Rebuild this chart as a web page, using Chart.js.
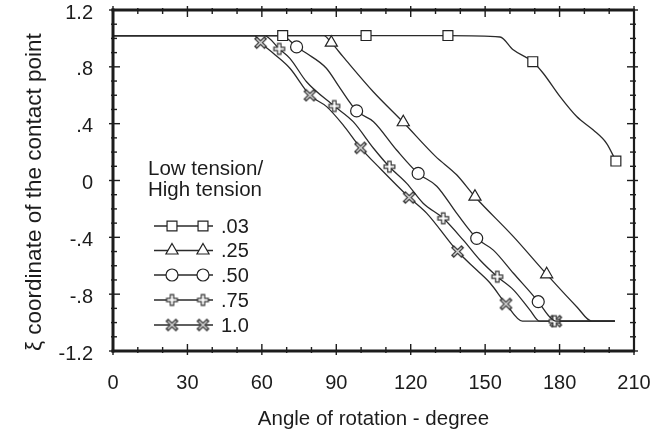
<!DOCTYPE html>
<html>
<head>
<meta charset="utf-8">
<script src="https://cdn.jsdelivr.net/npm/chart.js@4/dist/chart.umd.min.js"></script>
<style>
html,body{margin:0;padding:0;background:#fff;}
#wrap{width:669px;height:436px;position:relative;}
</style>
</head>
<body>
<div id="wrap"><canvas id="c" width="669" height="436"></canvas></div>
<script>
// ---------- data ----------
const seriesLabels = ['.03', '.25', '.50', '.75', '1.0'];
const legendTitle = ['Low tension/', 'High tension'];
const xTitle = 'Angle of rotation - degree';
const yTitle = 'ξ coordinate of the contact point';
const xTickValues = [0, 30, 60, 90, 120, 150, 180, 210];
const yTickValues = [-1.2, -0.8, -0.4, 0, 0.4, 0.8, 1.2];
const yTickLabels = ['-1.2', '-.8', '-.4', '0', '.4', '.8', '1.2'];

const s03X = [0, 68.4, 102, 135, 156, 161.3, 169.2, 173.4, 180.2, 186.9, 193.6, 199, 202.7];
const s03Y = [1.02, 1.02, 1.02, 1.02, 1.01, 0.92, 0.836, 0.755, 0.59, 0.45, 0.355, 0.26, 0.137];
const s03Mark = [0, 1, 1, 1, 0, 0, 1, 0, 0, 0, 0, 0, 1];

const s25X = [0, 85, 88, 92.8, 104.9, 117, 130, 138.5, 145.9, 161.4, 174.8, 186.9, 193, 202.3];
const s25Y = [1.02, 1.02, 0.97, 0.87, 0.625, 0.41, 0.17, 0.04, -0.114, -0.395, -0.66, -0.888, -0.99, -0.99];
const s25Mark = [0, 0, 1, 0, 0, 1, 0, 0, 1, 0, 1, 0, 0, 0];

const s50X = [0, 68, 74, 78, 86, 91.5, 98.2, 105, 114.3, 123, 130.5, 138.5, 146.6, 153.3, 161.4, 171.4, 176, 178.5, 202.3];
const s50Y = [1.02, 1.02, 0.94, 0.895, 0.79, 0.65, 0.49, 0.414, 0.215, 0.05, -0.04, -0.23, -0.407, -0.49, -0.653, -0.853, -0.96, -0.99, -0.99];
const s50Mark = [0, 0, 1, 0, 0, 0, 1, 0, 0, 1, 0, 0, 1, 0, 0, 1, 0, 0, 0];

const s75X = [0, 61, 67, 71.3, 78, 89.2, 96.8, 105, 111.4, 118.4, 125, 133.1, 141.2, 147.9, 154.9, 161.4, 168, 172, 178, 202.3];
const s75Y = [1.02, 1.02, 0.926, 0.86, 0.695, 0.524, 0.414, 0.227, 0.097, -0.02, -0.16, -0.266, -0.42, -0.56, -0.677, -0.77, -0.91, -0.99, -0.99, -0.99];
const s75Mark = [0, 0, 1, 0, 0, 1, 0, 0, 1, 0, 0, 1, 0, 0, 1, 0, 0, 0, 1, 0];

const s100X = [0, 57, 59.5, 64.6, 71.3, 79.4, 86.1, 92.8, 99.8, 107.6, 119.4, 126.4, 138.9, 146.6, 151.9, 158.4, 165, 178.5, 202.3];
const s100Y = [1.02, 1.02, 0.97, 0.895, 0.79, 0.60, 0.52, 0.39, 0.23, 0.086, -0.12, -0.23, -0.50, -0.63, -0.72, -0.869, -0.99, -0.99, -0.99];
const s100Mark = [0, 0, 1, 0, 0, 1, 0, 0, 1, 0, 1, 0, 1, 0, 0, 1, 0, 1, 0];

// ---------- styling ----------
const FONT = '"Liberation Sans", Arial, Helvetica, sans-serif';
const INK = '#1c1c1c';
const LINE = '#2a2a2a';

function makeHollowPlus() {
  const c = document.createElement('canvas');
  c.width = 15; c.height = 15;
  const g = c.getContext('2d');
  const m = 7.5, L = 6;
  g.lineCap = 'butt';
  g.strokeStyle = '#333'; g.lineWidth = 4.6;
  g.beginPath(); g.moveTo(m - L, m); g.lineTo(m + L, m); g.moveTo(m, m - L); g.lineTo(m, m + L); g.stroke();
  g.strokeStyle = '#fff'; g.lineWidth = 2.2;
  g.beginPath(); g.moveTo(m - L + 1.2, m); g.lineTo(m + L - 1.2, m); g.moveTo(m, m - L + 1.2); g.lineTo(m, m + L - 1.2); g.stroke();
  return c;
}
function makeHollowX() {
  const c = document.createElement('canvas');
  c.width = 15; c.height = 15;
  const g = c.getContext('2d');
  const m = 7.5, L = 5.2;
  g.lineCap = 'butt';
  g.strokeStyle = '#333'; g.lineWidth = 3.8;
  g.beginPath(); g.moveTo(m - L, m - L); g.lineTo(m + L, m + L); g.moveTo(m + L, m - L); g.lineTo(m - L, m + L); g.stroke();
  g.strokeStyle = '#ddd'; g.lineWidth = 1.4;
  g.beginPath(); g.moveTo(m - L + 1.1, m - L + 1.1); g.lineTo(m + L - 1.1, m + L - 1.1); g.moveTo(m + L - 1.1, m - L + 1.1); g.lineTo(m - L + 1.1, m + L - 1.1); g.stroke();
  return c;
}
const plusImg = makeHollowPlus();
const xImg = makeHollowX();

const markerStyles = ['rect', 'triangle', 'circle', plusImg, xImg];
const markerRadius = [7, 7, 6, 7, 7];

function makeSet(label, xs, ys, marks, idx) {
  return {
    label: label,
    data: xs.map((x, i) => ({x: x, y: ys[i]})),
    borderColor: LINE,
    borderWidth: 1.3,
    cubicInterpolationMode: 'monotone',
    fill: false,
    pointStyle: markerStyles[idx],
    pointRadius: marks.map(m => m ? markerRadius[idx] : 0),
    pointHoverRadius: marks.map(m => m ? markerRadius[idx] : 0),
    pointBackgroundColor: '#fff',
    pointBorderColor: '#222',
    pointBorderWidth: 1.2
  };
}

const datasets = [
  makeSet(seriesLabels[0], s03X, s03Y, s03Mark, 0),
  makeSet(seriesLabels[1], s25X, s25Y, s25Mark, 1),
  makeSet(seriesLabels[2], s50X, s50Y, s50Mark, 2),
  makeSet(seriesLabels[3], s75X, s75Y, s75Mark, 3),
  makeSet(seriesLabels[4], s100X, s100Y, s100Mark, 4)
];

function drawMarker(ctx, idx, x, y) {
  const st = markerStyles[idx];
  const r = markerRadius[idx];
  ctx.save();
  ctx.fillStyle = '#fff';
  ctx.strokeStyle = '#222';
  ctx.lineWidth = 1.2;
  if (st === 'rect') {
    const s = Math.SQRT1_2 * r;
    ctx.beginPath(); ctx.rect(x - s, y - s, 2 * s, 2 * s); ctx.fill(); ctx.stroke();
  } else if (st === 'triangle') {
    ctx.beginPath();
    ctx.moveTo(x, y - r);
    ctx.lineTo(x + 0.866 * r, y + r / 2);
    ctx.lineTo(x - 0.866 * r, y + r / 2);
    ctx.closePath(); ctx.fill(); ctx.stroke();
  } else if (st === 'circle') {
    ctx.beginPath(); ctx.arc(x, y, r, 0, Math.PI * 2); ctx.fill(); ctx.stroke();
  } else {
    ctx.drawImage(st, x - st.width / 2, y - st.height / 2);
  }
  ctx.restore();
}

const framePlugin = {
  id: 'frame',
  afterDatasetsDraw(chart) {
    const {ctx, chartArea: a, scales} = chart;
    const xs = scales.x, ys = scales.y;
    ctx.save();
    ctx.strokeStyle = INK;
    ctx.lineCap = 'butt';
    function seg(x1, y1, x2, y2) { ctx.beginPath(); ctx.moveTo(x1, y1); ctx.lineTo(x2, y2); ctx.stroke(); }
    ctx.lineWidth = 1.4;
    for (let i = 0; i <= 21; i++) {
      const px = xs.getPixelForValue(i * 10);
      const major = i % 3 === 0;
      const inn = major ? 7 : 4, out = major ? 4 : 2;
      seg(px, a.bottom + out, px, a.bottom - inn);
      seg(px, a.top - out, px, a.top + inn);
    }
    for (let i = 0; i <= 24; i++) {
      const py = ys.getPixelForValue(-1.2 + i * 0.1);
      const major = i % 4 === 0;
      const inn = major ? 7 : 4, out = major ? 4 : 2;
      seg(a.left - out, py, a.left + inn, py);
      seg(a.right + out, py, a.right - inn, py);
    }
    ctx.lineWidth = 3;
    seg(a.left, a.top - 1.5, a.left, a.bottom + 1.5);
    seg(a.left - 1.5, a.bottom, a.right + 1, a.bottom);
    seg(a.left - 1.5, a.top, a.right + 1, a.top);
    ctx.lineWidth = 2.2;
    seg(a.right, a.top, a.right, a.bottom);
    ctx.restore();
  },
  afterDraw(chart) {
    const ctx = chart.ctx;
    ctx.save();
    ctx.fillStyle = INK;
    ctx.font = '20.5px ' + FONT;
    ctx.textBaseline = 'middle';
    ctx.textAlign = 'left';
    ctx.fillText(legendTitle[0], 148, 169);
    ctx.fillText(legendTitle[1], 148, 190);
    const rowY = [226, 250.5, 275, 300, 325];
    for (let i = 0; i < seriesLabels.length; i++) {
      const y = rowY[i];
      ctx.strokeStyle = LINE;
      ctx.lineWidth = 1.3;
      ctx.beginPath(); ctx.moveTo(154, y); ctx.lineTo(213, y); ctx.stroke();
      drawMarker(ctx, i, 172, y);
      drawMarker(ctx, i, 203, y);
      ctx.fillStyle = INK;
      ctx.font = '20px ' + FONT;
      ctx.fillText(seriesLabels[i], 221, y + 1);
    }
    ctx.restore();
  }
};

new Chart(document.getElementById('c'), {
  type: 'line',
  data: {datasets: datasets},
  plugins: [framePlugin],
  options: {
    responsive: false,
    animation: false,
    devicePixelRatio: 1,
    layout: {padding: {top: 10, right: 35, left: 0, bottom: 0}},
    plugins: {legend: {display: false}, tooltip: {enabled: false}},
    events: [],
    scales: {
      x: {
        type: 'linear',
        min: 0, max: 210,
        grid: {display: false, drawTicks: false},
        border: {display: false},
        afterBuildTicks(scale) { scale.ticks = xTickValues.map(v => ({value: v})); },
        afterFit(scale) { scale.height = 85; scale.paddingLeft = 0; scale.paddingRight = 0; },
        ticks: {
          color: INK, padding: 22, maxRotation: 0, autoSkip: false,
          font: {family: FONT, size: 20, lineHeight: 1},
          callback: (v) => String(v)
        },
        title: {
          display: true, text: xTitle, color: INK,
          font: {family: FONT, size: 20.5},
          padding: {top: 0, bottom: 4}
        }
      },
      y: {
        type: 'linear',
        min: -1.2, max: 1.2,
        grid: {display: false, drawTicks: false},
        border: {display: false},
        afterBuildTicks(scale) { scale.ticks = yTickValues.map(v => ({value: v})); },
        afterFit(scale) { scale.width = 113; scale.paddingTop = 0; scale.paddingBottom = 0; },
        ticks: {
          color: INK, padding: 20, autoSkip: false, labelOffset: 3,
          font: {family: FONT, size: 20, lineHeight: 1},
          callback: (v, i) => yTickLabels[i]
        },
        title: {
          display: true, text: yTitle, color: INK, align: 'start',
          font: {family: FONT, size: 22.5},
          padding: {top: 21, bottom: 0}
        }
      }
    }
  }
});
</script>
</body>
</html>
